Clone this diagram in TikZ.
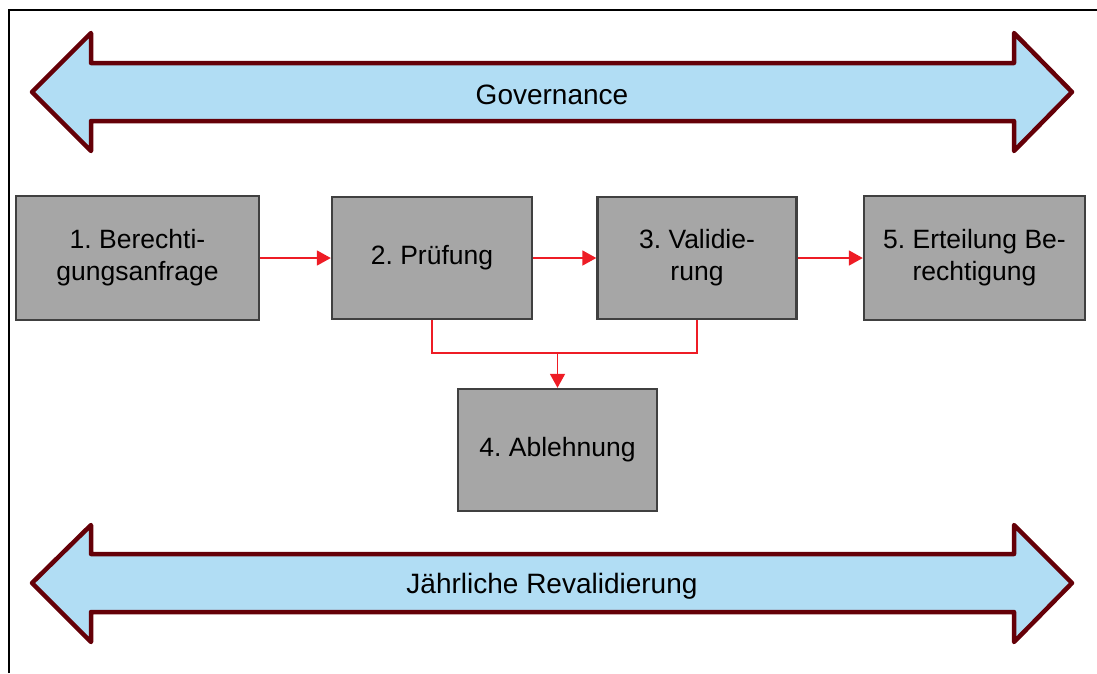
\documentclass[tikz,border=0pt]{standalone}
\usepackage{fontspec}
\setmainfont{Liberation Sans}
\frenchspacing
\usetikzlibrary{arrows.meta}
\definecolor{boxgray}{HTML}{A6A6A6}
\definecolor{boxline}{HTML}{404040}
\definecolor{arrred}{HTML}{EE1C25}
\definecolor{bigfill}{HTML}{B1DDF4}
\definecolor{bigline}{HTML}{650008}
\tikzset{
  stepbox/.style={draw=boxline, line width=2.4pt, fill=boxgray, align=center,
    font=\fontsize{26.5}{32}\selectfont, inner sep=0pt},
  flow/.style={draw=arrred, line width=1.8pt, -{Triangle[length=14pt,width=15pt]}},
  flowline/.style={draw=arrred, line width=1.8pt},
  bigarrow/.style={draw=bigline, fill=bigfill, line width=4.5pt, line join=round},
  bigtext/.style={font=\fontsize{28}{32}\selectfont, inner sep=0pt}
}
\begin{document}
\begin{tikzpicture}[x=1pt, y=-1pt]
\useasboundingbox (0,0) rectangle (1097,673);
% frame
\draw[line width=1.8pt, black] (9,673) -- (9,10) -- (1097,10);
% big arrows
\draw[bigarrow] (32,92) -- (91,33) -- (91,63) -- (1014,63) -- (1014,33) -- (1072,92)
  -- (1014,151) -- (1014,121) -- (91,121) -- (91,151) -- cycle;
\node[bigtext] (gov) at (552,95) {Governance};
\draw[bigarrow] (32,583) -- (91,525) -- (91,554) -- (1014,554) -- (1014,525) -- (1072,583)
  -- (1014,642) -- (1014,612) -- (91,612) -- (91,642) -- cycle;
\node[bigtext] (rev) at (552,586) {Jährliche Revalidierung};
% boxes
\node[stepbox, minimum width=243pt, minimum height=124pt] (b1) at (137.5,258) {1. Berechti-\\gungsanfrage};
\node[stepbox, minimum width=200pt, minimum height=122pt] (b2) at (432,258) {2. Prüfung};
\node[stepbox, minimum width=199pt, minimum height=122pt] (b3) at (697,258) {3. Validie-\\rung};
\node[stepbox, minimum width=221pt, minimum height=124pt] (b5) at (974.5,258) {5. Erteilung Be-\\rechtigung};
\node[stepbox, minimum width=199pt, minimum height=122pt] (b4) at (557.5,450) {4. Ablehnung};
% connectors
\draw[flow] (b1.east) -- (b2.west);
\draw[flow] (b2.east) -- (b3.west);
\draw[flow] (b3.east) -- (b5.west);
\coordinate (j) at (557.5,353);
\draw[flowline] (b2.south) |- (j);
\draw[flowline] (b3.south) |- (j);
\draw[flow] (j) -- (b4.north);
\end{tikzpicture}
\end{document}
